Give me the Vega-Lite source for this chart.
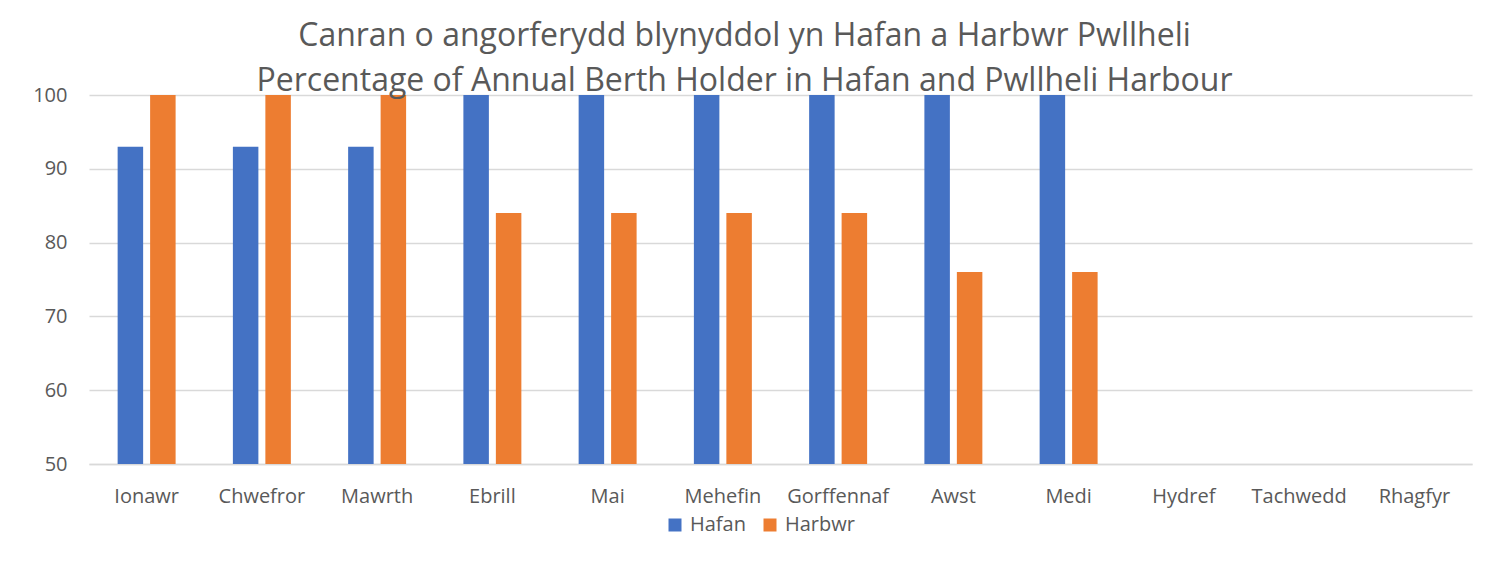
{
  "$schema": "https://vega.github.io/schema/vega-lite/v6.json",
  "width": 1383,
  "height": 369,
  "autosize": "none",
  "padding": {"left": 89, "top": 95, "right": 14, "bottom": 97},
  "background": "white",
  "title": {
    "text": ["Canran o angorferydd blynyddol yn Hafan a Harbwr Pwllheli", "Percentage of Annual Berth Holder in Hafan and Pwllheli Harbour"],
    "font": "Open Sans",
    "fontSize": 32,
    "fontWeight": "normal",
    "color": "#595959",
    "lineHeight": 45,
    "anchor": "middle",
    "dx": -36,
    "offset": -13
  },
  "data": {
    "values": [
      {"mis": "Ionawr", "cyfres": "Hafan", "gwerth": 93},
      {"mis": "Ionawr", "cyfres": "Harbwr", "gwerth": 100},
      {"mis": "Chwefror", "cyfres": "Hafan", "gwerth": 93},
      {"mis": "Chwefror", "cyfres": "Harbwr", "gwerth": 100},
      {"mis": "Mawrth", "cyfres": "Hafan", "gwerth": 93},
      {"mis": "Mawrth", "cyfres": "Harbwr", "gwerth": 100},
      {"mis": "Ebrill", "cyfres": "Hafan", "gwerth": 100},
      {"mis": "Ebrill", "cyfres": "Harbwr", "gwerth": 84},
      {"mis": "Mai", "cyfres": "Hafan", "gwerth": 100},
      {"mis": "Mai", "cyfres": "Harbwr", "gwerth": 84},
      {"mis": "Mehefin", "cyfres": "Hafan", "gwerth": 100},
      {"mis": "Mehefin", "cyfres": "Harbwr", "gwerth": 84},
      {"mis": "Gorffennaf", "cyfres": "Hafan", "gwerth": 100},
      {"mis": "Gorffennaf", "cyfres": "Harbwr", "gwerth": 84},
      {"mis": "Awst", "cyfres": "Hafan", "gwerth": 100},
      {"mis": "Awst", "cyfres": "Harbwr", "gwerth": 76},
      {"mis": "Medi", "cyfres": "Hafan", "gwerth": 100},
      {"mis": "Medi", "cyfres": "Harbwr", "gwerth": 76}
    ]
  },
  "mark": {"type": "bar", "clip": true},
  "encoding": {
    "x": {
      "field": "mis",
      "type": "nominal",
      "sort": null,
      "scale": {
        "domain": ["Ionawr", "Chwefror", "Mawrth", "Ebrill", "Mai", "Mehefin", "Gorffennaf", "Awst", "Medi", "Hydref", "Tachwedd", "Rhagfyr"],
        "paddingInner": 0.497,
        "paddingOuter": 0.2485
      },
      "axis": {
        "title": null,
        "labelAngle": 0,
        "labelFont": "Open Sans",
        "labelFontSize": 20,
        "labelColor": "#595959",
        "labelPadding": 22,
        "ticks": false,
        "domainColor": "#d9d9d9",
        "domainWidth": 1.5
      }
    },
    "xOffset": {
      "field": "cyfres",
      "type": "nominal",
      "scale": {"paddingInner": 0.215, "paddingOuter": 0}
    },
    "y": {
      "field": "gwerth",
      "type": "quantitative",
      "scale": {"domain": [50, 100], "zero": false, "nice": false},
      "axis": {
        "title": null,
        "values": [50, 60, 70, 80, 90, 100],
        "labelFont": "Open Sans",
        "labelFontSize": 20,
        "labelColor": "#595959",
        "labelPadding": 22,
        "ticks": false,
        "domain": false,
        "gridColor": "#d9d9d9",
        "gridWidth": 1.5
      }
    },
    "color": {
      "field": "cyfres",
      "type": "nominal",
      "scale": {"domain": ["Hafan", "Harbwr"], "range": ["#4472c4", "#ed7d31"]},
      "legend": {
        "title": null,
        "orient": "none",
        "direction": "horizontal",
        "legendX": 576,
        "legendY": 420,
        "symbolType": "square",
        "symbolSize": 169,
        "symbolStrokeWidth": 0,
        "labelFont": "Open Sans",
        "labelFontSize": 20,
        "labelColor": "#595959",
        "columnPadding": 14,
        "labelOffset": 5
      }
    }
  },
  "config": {
    "view": {"stroke": null}
  }
}
